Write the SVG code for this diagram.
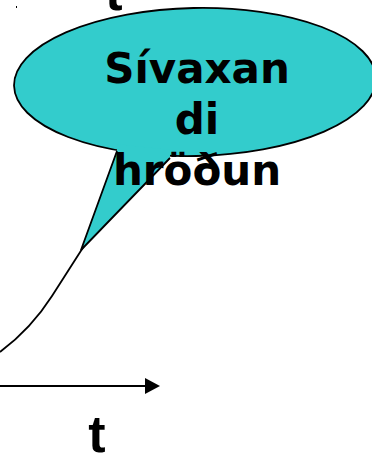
<svg xmlns="http://www.w3.org/2000/svg" width="372" height="453" viewBox="0 0 372 453">
<style>
.lbl{font-family:"DejaVu Sans",sans-serif;font-weight:bold;font-size:42px;fill:#000;text-anchor:middle}
.axl{font-family:"Liberation Sans",Arial,sans-serif;font-weight:bold;font-size:52px;fill:#000;text-anchor:middle}
.ln{fill:none;stroke:#000;stroke-width:1.8}
</style>
<rect x="16" y="6" width="1" height="2" fill="#000"/>
<text class="axl" x="114" y="10">t</text>
<g id="connectors">
<path class="ln" d="M0,352 C20,337 38,318 52,296 L84,246"/>
<line x1="0" y1="386" x2="145" y2="386" stroke="#000" stroke-width="1.8"/>
<path d="M145,378 L160,386 L145,394 Z" fill="#000"/>
</g>
<g id="callout">
<ellipse cx="195" cy="82" rx="181" ry="74" transform="rotate(-1.2 195 82)" fill="#33CCCC" stroke="#000" stroke-width="1.8"/>
<path d="M117,144 L117,151 L81,250 L170,158 L170,150 Z" fill="#33CCCC"/>
<path class="ln" d="M117,151 L81,250 L170,158"/>
<text class="lbl" x="197" y="83">Sívaxan</text>
<text class="lbl" x="197" y="134">di</text>
<text class="lbl" x="197" y="185">hröðun</text>
</g>
<g id="axis-label">
<text class="axl" x="97" y="452">t</text>
</g>
</svg>
